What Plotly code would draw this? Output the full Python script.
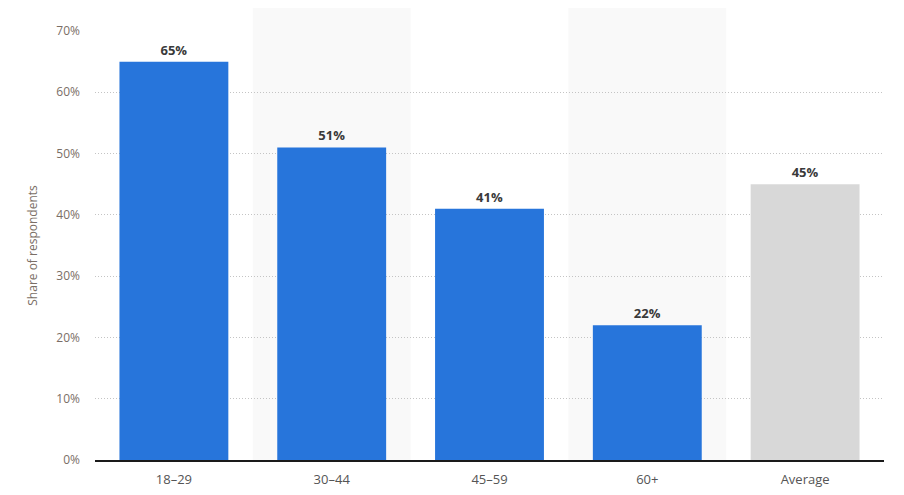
import plotly.graph_objects as go

categories = ["18–29", "30–44", "45–59", "60+", "Average"]
shares = [65, 51, 41, 22, 45]
bar_colors = ["#2775db", "#2775db", "#2775db", "#2775db", "#d8d8d8"]
y_ticks = [0, 10, 20, 30, 40, 50, 60, 70]
y_tick_labels = [f"{v}%" for v in y_ticks]

fig = go.Figure()
fig.add_trace(go.Bar(
    x=categories,
    y=shares,
    width=0.69,
    marker=dict(color=bar_colors, line=dict(width=0)),
    text=[f"{v}%" for v in shares],
    textposition="outside",
    textfont=dict(family="Open Sans, sans-serif", size=13, color="#3a3a3a", weight="bold"),
    cliponaxis=False,
))

# alternating background bands behind every second category
for i in [1, 3]:
    fig.add_shape(type="rect", xref="x", yref="paper",
                  x0=i - 0.5, x1=i + 0.5, y0=0, y1=1.06,
                  fillcolor="#f9f9f9", line=dict(width=0), layer="below")

# the page adds an 8px body margin, so margins are shifted to compensate
fig.update_layout(
    width=904, height=495,
    margin=dict(l=87, r=28, t=23, b=43),
    paper_bgcolor="white", plot_bgcolor="white",
    showlegend=False,
    font=dict(family="Open Sans, sans-serif", color="#666"),
    xaxis=dict(
        tickfont=dict(size=13, color="#555"),
        showline=True, linecolor="#1a1a1a", linewidth=1.5,
        ticks="", showgrid=False, ticklabelstandoff=7,
    ),
    yaxis=dict(
        range=[0, 70],
        tickvals=y_ticks, ticktext=y_tick_labels,
        tickfont=dict(size=12, color="#7a6e66"),
        showgrid=True, gridcolor="#c4c4c4", griddash="1px,2px", gridwidth=1,
        zeroline=False, ticks="", ticklen=0, ticklabelstandoff=14,
        title=dict(text="Share of respondents", font=dict(size=12, color="#7a6e66"), standoff=16),
    ),
)

fig.write_html("out.html")
